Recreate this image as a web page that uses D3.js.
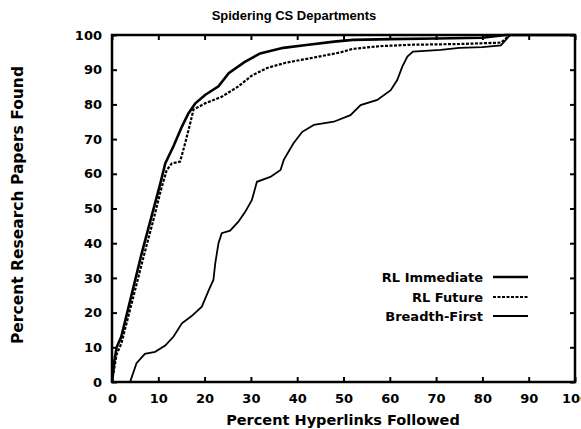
<!DOCTYPE html>
<html><head><meta charset="utf-8">
<script src="https://cdn.jsdelivr.net/npm/d3@7"></script>
<style>
html,body{margin:0;padding:0;background:#fff;}
svg{display:block;font-family:"DejaVu Sans",Arial,sans-serif;font-weight:bold;}
</style></head>
<body>
<svg id="chart" width="581" height="429"></svg>
<script>
const title = "Spidering CS Departments";
const xLabel = "Percent Hyperlinks Followed";
const yLabel = "Percent Research Papers Found";
const xTicks = [0,10,20,30,40,50,60,70,80,90,100];
const yTicks = [0,10,20,30,40,50,60,70,80,90,100];
const seriesNames = ["RL Immediate","RL Future","Breadth-First"];

const rlImmediate = [[0,0],[0.5,6],[1,10],[2,13],[4.2,25],[6.4,37],[8.6,48],[10.4,57],[11.5,63],[13.3,68],[15.1,73.6],[16.5,77.4],[18,80.3],[20.1,82.7],[23,85.2],[25.2,89],[28.6,92.2],[32,94.7],[37,96.3],[42,97.1],[48,98.1],[52,98.6],[60,98.8],[70,99],[80,99.2],[85,100],[100,100]];
const rlFuture = [[0,0],[1,8],[2,11],[4.5,24],[6.8,36],[9,47],[10.5,55],[11.8,61],[12.9,63],[14.7,63.5],[15.8,68.8],[16.9,74.6],[17.6,78.5],[20.1,80.3],[23.7,82.2],[27.3,85.2],[30.2,88.3],[33.5,90.5],[37.5,92],[43.6,93.5],[49.4,95],[52,96],[58,96.8],[65,97.2],[75,97.4],[84,97.8],[86,100],[100,100]];
const breadthFirst = [[0,0],[3.9,0],[5.3,5.4],[7.1,8.1],[9.3,8.7],[11.5,10.5],[13.3,13.1],[15.1,16.9],[17.2,19],[19.4,21.7],[20.9,26.5],[21.9,29.4],[22.3,34.2],[23,40],[23.7,42.9],[25.5,43.6],[27.3,46.2],[28.8,49.1],[30.2,52.4],[31.3,57.7],[34.2,59.1],[36.4,61.1],[37.1,64],[39.2,68.8],[41.1,72.1],[43.6,74.1],[47.9,75],[51.5,76.9],[53.7,79.8],[57.3,81.3],[60.2,84.1],[61.6,87],[62.7,90.9],[63.8,93.8],[65,95.2],[71,95.7],[75,96.3],[80,96.5],[84,97],[86,100],[100,100]];

const svg = d3.select("#chart");
const L = 112, R = 575, T = 35, B = 382;
const x = d3.scaleLinear().domain([0,100]).range([L,R]);
const y = d3.scaleLinear().domain([0,100]).range([B,T]);

const tl = 5;
svg.append("g").attr("transform",`translate(0,${B})`)
  .call(d3.axisBottom(x).tickValues(xTicks).tickSize(-tl).tickPadding(12).tickFormat(d3.format("d")))
  .call(g=>g.select(".domain").remove());
svg.append("g").attr("transform",`translate(0,${T})`)
  .call(d3.axisTop(x).tickValues(xTicks).tickSize(-tl).tickFormat(""))
  .call(g=>g.select(".domain").remove());
svg.append("g").attr("transform",`translate(${L},0)`)
  .call(d3.axisLeft(y).tickValues(yTicks).tickSize(-tl).tickPadding(10).tickFormat(d3.format("d")))
  .call(g=>g.select(".domain").remove());
svg.append("g").attr("transform",`translate(${R},0)`)
  .call(d3.axisRight(y).tickValues(yTicks).tickSize(-tl).tickFormat(""))
  .call(g=>g.select(".domain").remove());
svg.selectAll(".tick line").attr("stroke","#000").attr("stroke-width",2);
svg.selectAll(".tick text").attr("fill","#000").style("font-size","13px").style("font-weight","bold")
  .style("font-family","'DejaVu Sans',Arial,sans-serif");

svg.append("rect").attr("x",L).attr("y",T).attr("width",R-L).attr("height",B-T)
  .attr("fill","none").attr("stroke","#000").attr("stroke-width",2.5);

const line = d3.line().x(d=>x(d[0])).y(d=>y(d[1]));
const styles = [
  {w:2.6, dash:null},
  {w:2.2, dash:"3,1.5"},
  {w:1.8, dash:null}
];
const data = [rlImmediate, rlFuture, breadthFirst];
data.forEach((s,i)=>{
  svg.append("path").datum(s).attr("d",line).attr("fill","none")
    .attr("stroke","#000").attr("stroke-width",styles[i].w)
    .attr("stroke-dasharray",styles[i].dash);
});

const legY = [277,297,316];
seriesNames.forEach((n,i)=>{
  svg.append("text").attr("x",483).attr("y",legY[i]).attr("dy","0.35em")
    .attr("text-anchor","end").style("font-size","13px").text(n);
  svg.append("line").attr("x1",493).attr("x2",528).attr("y1",legY[i]).attr("y2",legY[i])
    .attr("stroke","#000").attr("stroke-width",styles[i].w).attr("stroke-dasharray",styles[i].dash);
});

svg.append("text").attr("x",294).attr("y",20).attr("text-anchor","middle")
  .style("font-family","'Liberation Sans',Arial,sans-serif")
  .style("font-size","13px").text(title);
svg.append("text").attr("x",343).attr("y",425).attr("text-anchor","middle")
  .style("font-size","14.5px").text(xLabel);
svg.append("text").attr("transform","translate(23,205) rotate(-90)").attr("text-anchor","middle")
  .style("font-size","15.5px").text(yLabel);
</script>
</body></html>
